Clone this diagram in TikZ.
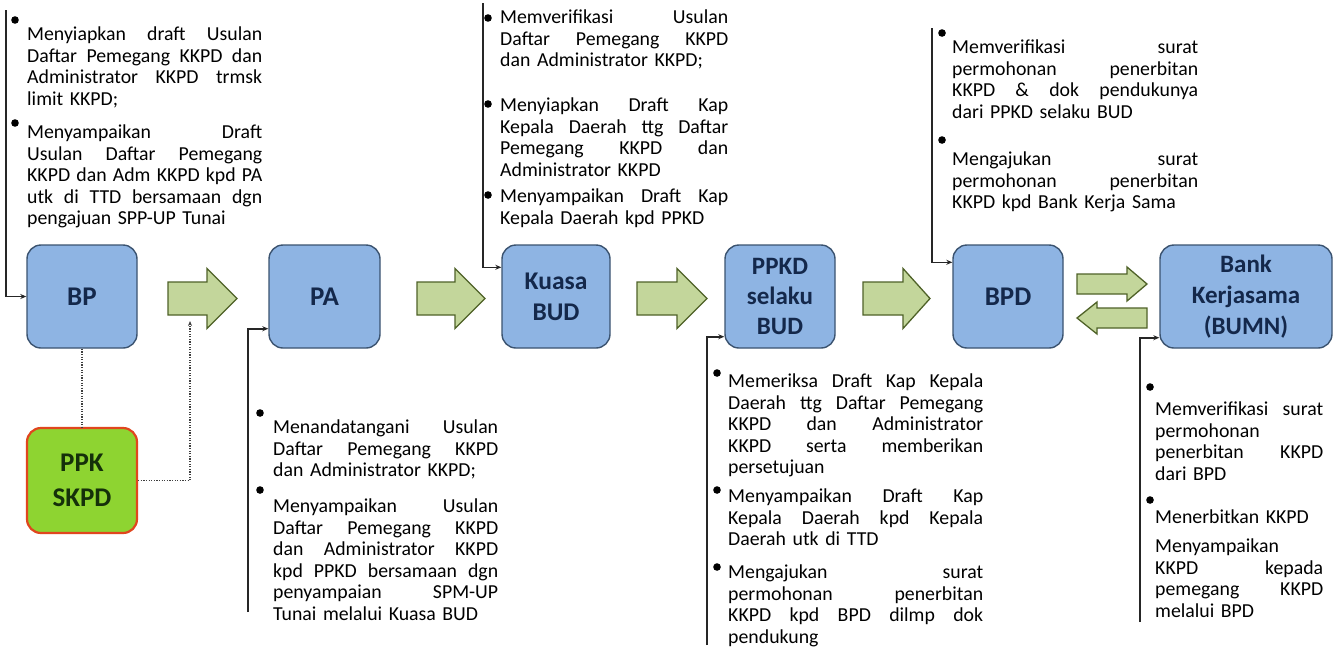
\documentclass[tikz,border=0pt]{standalone}
\usepackage{fontspec}
\setmainfont{Carlito}
\usetikzlibrary{arrows.meta}
\definecolor{boxblue}{HTML}{8EB4E3}
\definecolor{boxline}{HTML}{3B5370}
\definecolor{boxtext}{HTML}{14284B}
\definecolor{arrfill}{HTML}{C3D69B}
\definecolor{arrline}{HTML}{4F6228}
\definecolor{ppkfill}{HTML}{8ED431}
\definecolor{ppkline}{HTML}{E0461E}
\definecolor{ppktext}{HTML}{15300A}
\def\jw{235pt}
\newcommand{\jline}[1]{\noindent\hbox to \jw{\spaceskip=0.23em plus 30em minus 0.05em\relax #1}\par}
\newcommand{\pline}[1]{\noindent#1\par}
% x1, x2 (tip for right arrow), xh (head base), yc, shaft half, head half
\newcommand{\rarrow}[6]{\path[barr] (#1,{#4-#5}) -- (#3,{#4-#5}) -- (#3,{#4-#6}) -- (#2,#4) -- (#3,{#4+#6}) -- (#3,{#4+#5}) -- (#1,{#4+#5}) -- cycle;}
\newcommand{\larrow}[6]{\path[barr] (#2,{#4-#5}) -- (#3,{#4-#5}) -- (#3,{#4-#6}) -- (#1,#4) -- (#3,{#4+#6}) -- (#3,{#4+#5}) -- (#2,{#4+#5}) -- cycle;}
\begin{document}
\begin{tikzpicture}[x=1pt,y=-1pt,
  box/.style={draw=boxline, fill=boxblue, rounded corners=14pt, line width=1.4pt,
    minimum height=103pt, align=center, inner sep=0pt, text=boxtext,
    font=\fontsize{25.5}{31}\selectfont\bfseries},
  itm/.style={anchor=base west, inner sep=0pt, text width=#1,
    font=\fontsize{19.8}{21.5}\selectfont},
  bul/.style={fill=black},
  brk/.style={draw=black!85, line width=1.6pt, -{Stealth[length=6pt,width=5pt]}},
  dotc/.style={draw=black!75, line width=1.3pt, dash pattern=on 1.3pt off 1.3pt},
  barr/.style={fill=arrfill, draw=arrline, line width=1.3pt, line join=miter}]
\useasboundingbox (0,0) rectangle (1337,657);
\fill[white] (0,0) rectangle (1337,657);

% boxes
\node[box, minimum width=110pt, font=\fontsize{27}{31}\selectfont\bfseries] (bp) at (82,296.5) {BP};
\node[box, minimum width=111pt, font=\fontsize{27}{31}\selectfont\bfseries] (pa) at (324.5,296.5) {PA};
\node[box, minimum width=108pt] (kb) at (556,296.5) {Kuasa\\BUD};
\node[box, minimum width=110pt, font=\fontsize{25}{30}\selectfont\bfseries] (ppkd) at (780,296.5) {PPKD\\selaku\\BUD};
\node[box, minimum width=110pt, font=\fontsize{27}{31}\selectfont\bfseries] (bpd) at (1008,296.5) {BPD};
\node[box, minimum width=172pt, font=\fontsize{25}{31}\selectfont\bfseries] (bank) at (1246,296.5) {Bank\\Kerjasama\\(BUMN)};
\node[box, draw=ppkline, fill=ppkfill, text=ppktext, line width=2.2pt, minimum width=110pt,
  minimum height=105pt, font=\fontsize{27}{35}\selectfont\bfseries] (ppk) at (82,480.5) {PPK\\SKPD};

% block arrows
\rarrow{168}{237}{207}{298.5}{16.5}{30}
\rarrow{417}{485}{455}{298.5}{16.5}{30}
\rarrow{637}{707}{677}{298.5}{16.5}{30}
\rarrow{863}{930}{903}{298.5}{16.5}{30}
\rarrow{1077}{1147}{1127}{284}{10}{17}
\larrow{1077}{1147}{1097}{318}{10}{16}

% dotted connectors
\coordinate (d1) at (190,321);
\draw[dotc] (bp.south) -- (ppk.north);
\draw[dotc, -{Stealth[length=5pt,width=4pt]}] (ppk.east) -| (d1);

% bracket connectors
\coordinate (c1) at (6,10);
\coordinate (c2) at (248,612);
\coordinate (c3) at (483,3);
\coordinate (c4) at (707,645);
\coordinate (c5) at (932,28);
\coordinate (c6) at (1140,622);
\draw[brk] (c1) |- (bp.west);
\draw[brk] (c2) |- ([yshift=20pt]pa.south west);
\draw[brk] (c3) |- ([yshift=-23pt]kb.north west);
\draw[brk] (c4) |- ([yshift=12pt]ppkd.south west);
\draw[brk] (c5) |- ([yshift=-18pt]bpd.north west);
\draw[brk] (c6) |- ([yshift=11pt]bank.south west);

% bullets
\foreach \p in {(15,20),(15,123),(260,413),(260,490),(488,18),(488,104),(488,195),
  (717,373),(717,490),(717,567),(942,33),(942,140),(1150,387),(1150,500)}
  \fill[bul] \p circle[radius=3.8pt];

% block 1 (BP)
\node[itm=235pt] (t1a) at (27,40.5) {\def\jw{235pt}\jline{Menyiapkan draft Usulan}\jline{Daftar Pemegang KKPD dan}\jline{Administrator KKPD trmsk}\pline{limit KKPD;}};
\node[itm=235pt] (t1b) at (27,138.5) {\def\jw{235pt}\jline{Menyampaikan Draft}\jline{Usulan Daftar Pemegang}\jline{KKPD dan Adm KKPD kpd PA}\jline{utk di TTD bersamaan dgn}\pline{pengajuan SPP-UP Tunai}};

% block 2 (PA)
\node[itm=225pt] (t2a) at (273,433.5) {\def\jw{225pt}\jline{Menandatangani Usulan}\jline{Daftar Pemegang KKPD}\pline{dan Administrator KKPD;}};
\node[itm=225pt] (t2b) at (273,512.5) {\def\jw{225pt}\jline{Menyampaikan Usulan}\jline{Daftar Pemegang KKPD}\jline{dan Administrator KKPD}\jline{kpd PPKD bersamaan dgn}\jline{penyampaian SPM-UP}\pline{Tunai melalui Kuasa BUD}};

% block 3 (Kuasa BUD)
\node[itm=228pt] (t3a) at (500,23.5) {\def\jw{228pt}\jline{Memverifikasi Usulan}\jline{Daftar Pemegang KKPD}\pline{dan Administrator KKPD;}};
\node[itm=228pt] (t3b) at (500,111.5) {\def\jw{228pt}\jline{Menyiapkan Draft Kap}\jline{Kepala Daerah ttg Daftar}\jline{Pemegang KKPD dan}\pline{Administrator KKPD}};
\node[itm=228pt] (t3c) at (500,202.5) {\def\jw{228pt}\jline{Menyampaikan Draft Kap}\pline{Kepala Daerah kpd PPKD}};

% block 4 (PPKD)
\node[itm=255pt] (t4a) at (728,387.5) {\def\jw{255pt}\jline{Memeriksa Draft Kap Kepala}\jline{Daerah ttg Daftar Pemegang}\jline{KKPD dan Administrator}\jline{KKPD serta memberikan}\pline{persetujuan}};
\node[itm=255pt] (t4b) at (728,502.5) {\def\jw{255pt}\jline{Menyampaikan Draft Kap}\jline{Kepala Daerah kpd Kepala}\pline{Daerah utk di TTD}};
\node[itm=255pt] (t4c) at (728,578.5) {\def\jw{255pt}\jline{Mengajukan surat}\jline{permohonan penerbitan}\jline{KKPD kpd BPD dilmp dok}\pline{pendukung}};

% block 5 (BPD)
\node[itm=246pt] (t5a) at (952,53.5) {\def\jw{246pt}\jline{Memverifikasi surat}\jline{permohonan penerbitan}\jline{KKPD \& dok pendukunya}\pline{dari PPKD selaku BUD}};
\node[itm=246pt] (t5b) at (952,165.5) {\def\jw{246pt}\jline{Mengajukan surat}\jline{permohonan penerbitan}\pline{KKPD kpd Bank Kerja Sama}};

% block 6 (Bank)
\node[itm=168pt] (t6a) at (1155,415.5) {\def\jw{168pt}\jline{Memverifikasi surat}\pline{permohonan}\jline{penerbitan KKPD}\pline{dari BPD}};
\node[itm=168pt] (t6b) at (1155,523.5) {\pline{Menerbitkan KKPD}};
\node[itm=168pt] (t6c) at (1155,552.5) {\def\jw{168pt}\pline{Menyampaikan}\jline{KKPD kepada}\jline{pemegang KKPD}\pline{melalui BPD}};
\end{tikzpicture}
\end{document}
